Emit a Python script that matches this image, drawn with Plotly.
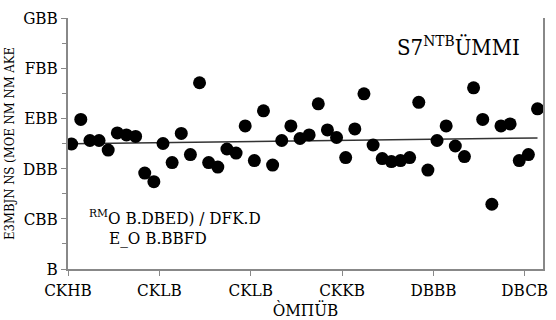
import numpy as np
import plotly.graph_objects as go

years = list(range(1960, 2012))
values = [249, 298, 256, 256, 237, 271, 267, 264, 191, 174,
          250, 212, 270, 228, 371, 212, 203, 239, 231, 285,
          216, 315, 207, 256, 285, 260, 267, 329, 277, 262,
          222, 279, 349, 247, 220, 214, 216, 222, 332, 197,
          256, 285, 245, 224, 361, 298, 129, 285, 289, 216,
          228, 319]

x_ticks = [1960, 1970, 1980, 1990, 2000, 2010]
x_ticklabels = ["CKHB", "CKLB", "CKLB", "CKKB", "DBBB", "DBCB"]
y_ticks = [0, 100, 200, 300, 400, 500]
y_ticklabels = ["B", "CBB", "DBB", "EBB", "FBB", "GBB"]

x_title = "ÒMΠÜB"
y_title = "E3MBJN NS (MOE NM NM AKE"
corner_label = "S7<sup>NTB</sup>ÜMMI"
eq_line1 = "<sup>RM</sup>O B.DBED) / DFK.D"
eq_line2 = "E_O B.BBFD"

xs = np.array(years, dtype=float) + 0.4
vs = np.array(values, dtype=float)
slope, intercept = np.polyfit(xs, vs, 1)
trend_x = [xs.min(), xs.max()]
trend_y = [slope * t + intercept for t in trend_x]

font_family = "DejaVu Serif Condensed, Liberation Serif, serif"

fig = go.Figure()
fig.add_trace(go.Scatter(x=trend_x, y=trend_y, mode="lines",
                         line=dict(color="#333333", width=1.5),
                         showlegend=False, hoverinfo="skip"))
fig.add_trace(go.Scatter(x=xs, y=vs, mode="markers",
                         marker=dict(color="black", size=13),
                         showlegend=False))

fig.update_layout(
    width=556, height=320,
    margin=dict(l=62, r=8, t=9, b=48),
    plot_bgcolor="white", paper_bgcolor="white",
    font=dict(family=font_family, color="black", size=17),
    xaxis=dict(range=[1960, 2012], tickvals=x_ticks, ticktext=x_ticklabels,
               showgrid=False, zeroline=False, showline=True,
               linecolor="#888888", linewidth=1.5, ticks="outside",
               tickcolor="#888888", ticklen=5, ticklabeloverflow="allow",
               title=dict(text=x_title, font=dict(size=17), standoff=0)),
    yaxis=dict(range=[0, 500], tickvals=y_ticks, ticktext=y_ticklabels,
               showgrid=False, zeroline=False, showline=True, mirror=True,
               linecolor="#888888", linewidth=1.5, ticks="outside",
               tickcolor="#888888", ticklen=5, ticklabeloverflow="allow",
               minor=dict(dtick=50, ticks="outside", ticklen=4, tickcolor="#888888"),
               title=dict(text=y_title, font=dict(size=13), standoff=6)),
    annotations=[
        dict(x=0.823, y=0.89, xref="paper", yref="paper", text=corner_label,
             xanchor="center", yanchor="middle",
             showarrow=False, font=dict(size=22)),
        dict(x=0.226, y=0.209, xref="paper", yref="paper", text=eq_line1,
             xanchor="center", yanchor="middle",
             showarrow=False, font=dict(size=17)),
        dict(x=0.19, y=0.125, xref="paper", yref="paper", text=eq_line2,
             xanchor="center", yanchor="middle",
             showarrow=False, font=dict(size=17)),
    ],
)

fig.write_html("out.html")
